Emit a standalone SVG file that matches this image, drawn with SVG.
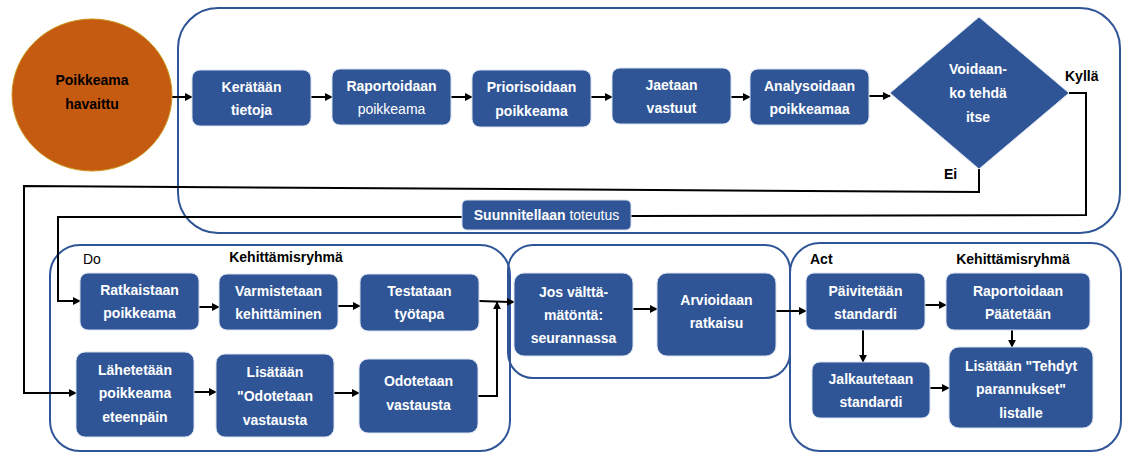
<svg xmlns="http://www.w3.org/2000/svg" width="1123" height="452" viewBox="0 0 1123 452">
  <style>
    .frame { fill: none; stroke: #2F5597; stroke-width: 2; }
    .box { fill: #2F5597; stroke: #d9e1ef; stroke-width: 1; }
    .bt { fill: #ffffff; font-family: "Liberation Sans", Arial, sans-serif; font-size: 14px; font-weight: bold; text-anchor: middle; }
    .reg { font-weight: normal; }
    .lbl { fill: #000000; font-family: "Liberation Sans", Arial, sans-serif; font-size: 14px; font-weight: bold; }
    .lbl.plain { font-weight: normal; }
    .wire { fill: none; stroke: #000000; stroke-width: 2; }
  </style>
  <defs>
    <marker id="arrow" viewBox="0 0 10 10" refX="9" refY="5" markerWidth="4" markerHeight="4" orient="auto" markerUnits="strokeWidth">
      <path d="M0,0 L10,5 L0,10 z" fill="#000000"/>
    </marker>
  </defs>

  <!-- phase frames -->
  <g id="frames">
    <rect class="frame" x="178" y="8" width="942" height="225" rx="40"/>
    <rect class="frame" x="50" y="245" width="460" height="206" rx="30"/>
    <rect class="frame" x="508" y="245" width="282" height="133" rx="25"/>
    <rect class="frame" x="790" y="243" width="331" height="208" rx="30"/>
  </g>

  <!-- connectors -->
  <g id="connectors">
    <line class="wire" x1="172" y1="97" x2="192" y2="97" marker-end="url(#arrow)"/>
    <line class="wire" x1="311" y1="97" x2="332" y2="97" marker-end="url(#arrow)"/>
    <line class="wire" x1="451" y1="97" x2="472" y2="97" marker-end="url(#arrow)"/>
    <line class="wire" x1="591" y1="97" x2="612" y2="97" marker-end="url(#arrow)"/>
    <line class="wire" x1="731" y1="97" x2="750" y2="97" marker-end="url(#arrow)"/>
    <line class="wire" x1="869" y1="96" x2="890" y2="96" marker-end="url(#arrow)"/>
    <!-- Kyllä branch -->
    <polyline class="wire" points="1069,93 1086,93 1086,215 631,216"/>
    <polyline class="wire" points="462,217 58,217 58,301 80,301" marker-end="url(#arrow)"/>
    <!-- Ei branch -->
    <polyline class="wire" points="979,169 979,192 24,186 24,393 76,393" marker-end="url(#arrow)"/>
    <!-- Do -->
    <line class="wire" x1="199" y1="307" x2="219" y2="307" marker-end="url(#arrow)"/>
    <line class="wire" x1="338" y1="306" x2="360" y2="306" marker-end="url(#arrow)"/>
    <line class="wire" x1="194" y1="392" x2="216" y2="392" marker-end="url(#arrow)"/>
    <line class="wire" x1="334" y1="393" x2="359" y2="393" marker-end="url(#arrow)"/>
    <polyline class="wire" points="478,396 497,396 497,302" marker-end="url(#arrow)"/>
    <line class="wire" x1="479" y1="301" x2="514" y2="302" marker-end="url(#arrow)"/>
    <!-- Check -->
    <line class="wire" x1="633" y1="309" x2="657" y2="309" marker-end="url(#arrow)"/>
    <line class="wire" x1="776" y1="311" x2="806" y2="311" marker-end="url(#arrow)"/>
    <!-- Act -->
    <line class="wire" x1="925" y1="305" x2="946" y2="305" marker-end="url(#arrow)"/>
    <line class="wire" x1="863" y1="330" x2="863" y2="362" marker-end="url(#arrow)"/>
    <line class="wire" x1="1012" y1="330" x2="1012" y2="347" marker-end="url(#arrow)"/>
    <line class="wire" x1="930" y1="388" x2="949" y2="388" marker-end="url(#arrow)"/>
  </g>

  <!-- start event -->
  <g id="start">
    <ellipse cx="92" cy="95" rx="80" ry="76" fill="#C55A11" stroke="#C9961A" stroke-width="1"/>
    <text class="lbl" x="92" y="85" text-anchor="middle" fill="#1a1208">Poikkeama</text>
    <text class="lbl" x="92" y="109" text-anchor="middle" fill="#1a1208">havaittu</text>
  </g>

  <!-- Plan -->
  <g id="keratan">
    <rect class="box" x="192" y="70" width="119" height="56" rx="8"/>
    <text class="bt" x="251.5" y="92">Kerätään</text>
    <text class="bt" x="251.5" y="115">tietoja</text>
  </g>
  <g id="raportoidaan">
    <rect class="box" x="332" y="69" width="119" height="56" rx="8"/>
    <text class="bt" x="391.5" y="91">Raportoidaan</text>
    <text class="bt reg" x="391.5" y="114">poikkeama</text>
  </g>
  <g id="priorisoidaan">
    <rect class="box" x="472" y="70" width="119" height="57" rx="8"/>
    <text class="bt" x="531.5" y="92">Priorisoidaan</text>
    <text class="bt" x="531.5" y="116">poikkeama</text>
  </g>
  <g id="jaetaan">
    <rect class="box" x="612" y="68" width="119" height="56" rx="8"/>
    <text class="bt" x="671.5" y="90">Jaetaan</text>
    <text class="bt" x="671.5" y="113">vastuut</text>
  </g>
  <g id="analysoidaan">
    <rect class="box" x="750" y="69" width="119" height="56" rx="8"/>
    <text class="bt" x="809.5" y="91">Analysoidaan</text>
    <text class="bt" x="809.5" y="114">poikkeamaa</text>
  </g>
  <g id="paatos">
    <polygon class="box" points="979,17 1069,93 979,169 890,93" stroke="none"/>
    <text class="bt" x="978" y="74">Voidaan-</text>
    <text class="bt" x="978" y="98">ko tehdä</text>
    <text class="bt" x="978" y="122">itse</text>
  </g>
  <g id="haarat">
    <text class="lbl" x="1065" y="81">Kyllä</text>
    <text class="lbl" x="944" y="179">Ei</text>
  </g>
  <g id="suunnitellaan">
    <rect class="box" x="462" y="200" width="169" height="30" rx="5"/>
    <text class="bt" x="546.5" y="220"><tspan>Suunnitellaan</tspan><tspan class="reg"> toteutus</tspan></text>
  </g>

  <!-- Do -->
  <g id="do-otsikot">
    <text class="lbl plain" x="83" y="264">Do</text>
    <text class="lbl" x="286" y="262" text-anchor="middle">Kehittämisryhmä</text>
  </g>
  <g id="ratkaistaan">
    <rect class="box" x="80" y="273" width="119" height="57" rx="8"/>
    <text class="bt" x="139.5" y="295">Ratkaistaan</text>
    <text class="bt" x="139.5" y="318">poikkeama</text>
  </g>
  <g id="varmistetaan">
    <rect class="box" x="219" y="274" width="119" height="56" rx="8"/>
    <text class="bt" x="278.5" y="296">Varmistetaan</text>
    <text class="bt" x="278.5" y="319">kehittäminen</text>
  </g>
  <g id="testataan">
    <rect class="box" x="360" y="274" width="119" height="57" rx="8"/>
    <text class="bt" x="419.5" y="296">Testataan</text>
    <text class="bt" x="419.5" y="319">työtapa</text>
  </g>
  <g id="lahetetaan">
    <rect class="box" x="76" y="352" width="118" height="85" rx="9"/>
    <text class="bt" x="135" y="375">Lähetetään</text>
    <text class="bt" x="135" y="398">poikkeama</text>
    <text class="bt" x="135" y="422">eteenpäin</text>
  </g>
  <g id="lisataan-odotetaan">
    <rect class="box" x="216" y="354" width="118" height="83" rx="9"/>
    <text class="bt" x="275" y="377">Lisätään</text>
    <text class="bt" x="275" y="401">"Odotetaan</text>
    <text class="bt" x="275" y="425">vastausta</text>
  </g>
  <g id="odotetaan">
    <rect class="box" x="359" y="359" width="119" height="74" rx="9"/>
    <text class="bt" x="418.5" y="386">Odotetaan</text>
    <text class="bt" x="418.5" y="410">vastausta</text>
  </g>

  <!-- Check -->
  <g id="jos">
    <rect class="box" x="514" y="273" width="119" height="83" rx="10"/>
    <text class="bt" x="573.5" y="297">Jos välttä-</text>
    <text class="bt" x="573.5" y="320">mätöntä:</text>
    <text class="bt" x="573.5" y="343">seurannassa</text>
  </g>
  <g id="arvioidaan">
    <rect class="box" x="657" y="273" width="119" height="83" rx="10"/>
    <text class="bt" x="716.5" y="305">Arvioidaan</text>
    <text class="bt" x="716.5" y="328">ratkaisu</text>
  </g>

  <!-- Act -->
  <g id="act-otsikot">
    <text class="lbl" x="810" y="264">Act</text>
    <text class="lbl" x="1013" y="264" text-anchor="middle">Kehittämisryhmä</text>
  </g>
  <g id="paivitetaan">
    <rect class="box" x="806" y="273" width="119" height="57" rx="8"/>
    <text class="bt" x="865.5" y="296">Päivitetään</text>
    <text class="bt" x="865.5" y="319">standardi</text>
  </g>
  <g id="raportoidaan-paatetaan">
    <rect class="box" x="946" y="273" width="144" height="57" rx="8"/>
    <text class="bt" x="1018" y="296">Raportoidaan</text>
    <text class="bt" x="1018" y="319">Päätetään</text>
  </g>
  <g id="jalkautetaan">
    <rect class="box" x="812" y="362" width="118" height="56" rx="8"/>
    <text class="bt" x="871" y="384">Jalkautetaan</text>
    <text class="bt" x="871" y="407">standardi</text>
  </g>
  <g id="lisataan-tehdyt">
    <rect class="box" x="949" y="347" width="144" height="81" rx="10"/>
    <text class="bt" x="1021" y="371">Lisätään "Tehdyt</text>
    <text class="bt" x="1021" y="394">parannukset"</text>
    <text class="bt" x="1021" y="418">listalle</text>
  </g>
</svg>
